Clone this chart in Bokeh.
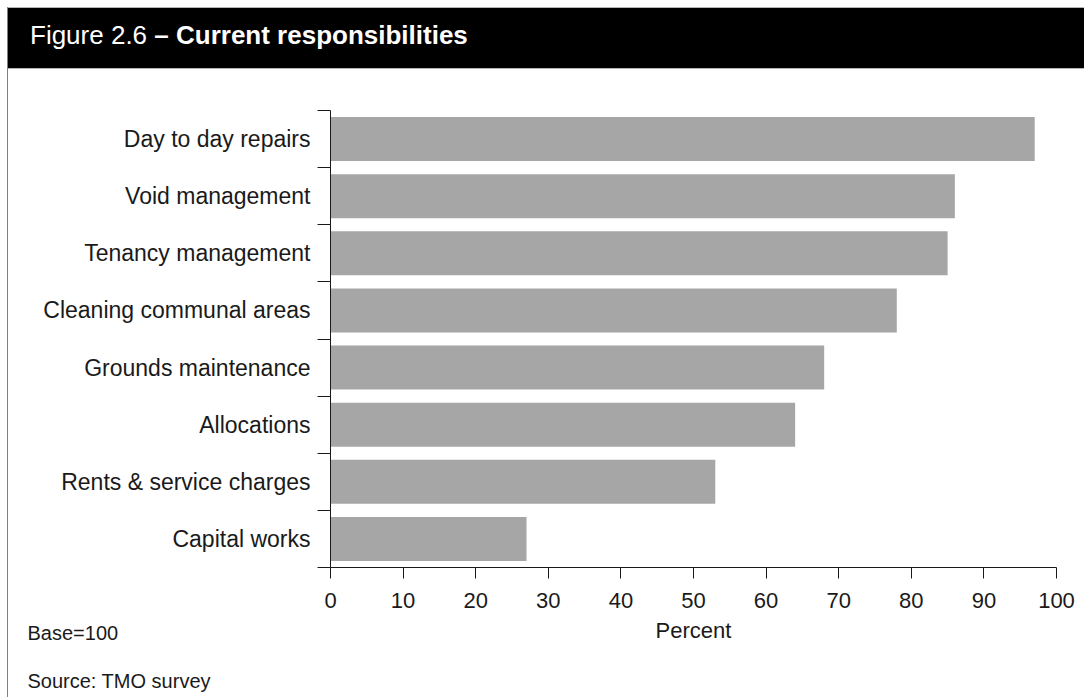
from bokeh.plotting import figure
from bokeh.models import Range1d, FixedTicker, Label, Div, LinearAxis
from bokeh.layouts import column
from bokeh.embed import file_html
from bokeh.resources import INLINE

# ---- data ----
categories = ["Capital works", "Rents & service charges", "Allocations",
              "Grounds maintenance", "Cleaning communal areas",
              "Tenancy management", "Void management", "Day to day repairs"]
percent = [27, 53, 64, 68, 78, 85, 86, 97]
x_ticks = [0, 10, 20, 30, 40, 50, 60, 70, 80, 90, 100]
title_plain = "Figure 2.6"
title_bold = "– Current responsibilities"
base_note = "Base=100"
source_note = "Source: TMO survey"

FONT = "Liberation Sans"
TXT = "#1a1a1a"
W = 1076
TITLE_H = 62
MAIN_H = 628

# ---- title bar ----
title_div = Div(
    text=f"{title_plain} <b>{title_bold}</b>",
    width=W, height=TITLE_H, margin=0,
    styles={"background-color": "black", "color": "white",
            "font-family": FONT, "font-size": "26px",
            "line-height": "54px", "padding-left": "22px",
            "border-top": "1px solid #b4b4b4",
            "border-bottom": "1px solid #b4b4b4",
            "box-sizing": "border-box", "white-space": "nowrap"})

# ---- main chart (frame covers whole canvas; axes drawn at fixed locations) ----
n = len(categories)
pos = [i + 0.5 for i in range(n)]
PX_X = 7.26    # pixels per percent
PX_Y = 57.125  # pixels per category slot
LEFT, TOP, BOTTOM = 322, 41, 498
p = figure(width=W, height=MAIN_H, output_backend="svg", toolbar_location=None,
           x_range=Range1d(-LEFT / PX_X, (W - LEFT) / PX_X),
           y_range=Range1d(-(MAIN_H - BOTTOM) / PX_Y, n + TOP / PX_Y),
           x_axis_type=None, y_axis_type=None, min_border=0,
           outline_line_color=None, margin=0)
p.hbar(y=pos, left=0, right=percent, height=0.77, fill_color="#a6a6a6",
       line_color=None)
p.grid.visible = False

xa = LinearAxis(fixed_location=0, bounds=(x_ticks[0], x_ticks[-1]),
                ticker=FixedTicker(ticks=x_ticks))
xa.major_tick_out = 11
xa.major_tick_in = 0
xa.minor_tick_line_color = None
xa.major_label_standoff = 14
xa.axis_label = "Percent"
xa.axis_label_standoff = 7

ya = LinearAxis(fixed_location=0, bounds=(0, n),
                ticker=FixedTicker(ticks=pos, minor_ticks=list(range(n + 1))))
ya.major_label_overrides = {pos[i]: categories[i] for i in range(n)}
ya.major_tick_line_color = None
ya.major_tick_out = 0
ya.major_tick_in = 0
ya.minor_tick_out = 13
ya.minor_tick_in = 0
ya.minor_tick_line_color = "#1a1a1a"
ya.major_label_standoff = 7

for ax in (xa, ya):
    ax.axis_line_color = "#1a1a1a"
    ax.major_label_text_font = FONT
    ax.major_label_text_color = TXT
    ax.axis_label_text_font = FONT
    ax.axis_label_text_font_size = "22px"
    ax.axis_label_text_font_style = "normal"
    ax.axis_label_text_color = TXT
xa.major_label_text_font_size = "22px"
ya.major_label_text_font_size = "23px"
xa.major_tick_line_color = "#1a1a1a"
p.add_layout(xa, "below")
p.add_layout(ya, "left")

p.add_layout(Label(x=19, y=563, x_units="canvas", y_units="canvas",
                   text=base_note, text_font=FONT, text_font_size="20px",
                   text_color=TXT, text_baseline="alphabetic"))
p.add_layout(Label(x=19, y=611, x_units="canvas", y_units="canvas",
                   text=source_note, text_font=FONT, text_font_size="20px",
                   text_color=TXT, text_baseline="alphabetic"))

layout = column(title_div, p, margin=(7, 0, 0, 7), spacing=0,
                styles={"border-left": "1px solid #808080"})
open("out.html", "w").write(file_html(layout, INLINE))
